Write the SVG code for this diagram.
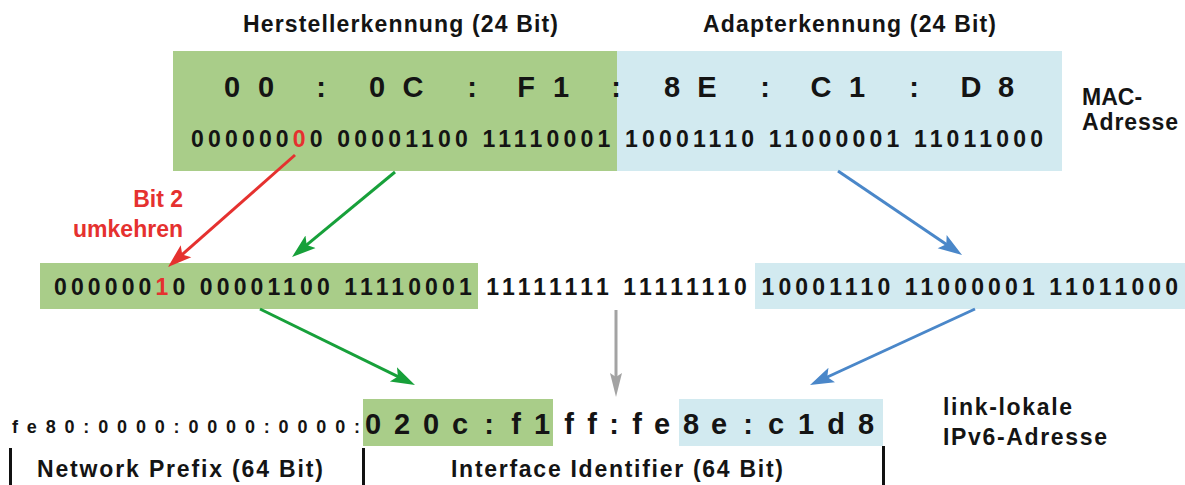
<svg xmlns="http://www.w3.org/2000/svg" width="1185" height="485" viewBox="0 0 1185 485">
<style>
text { font-family: "Liberation Sans", Arial, sans-serif; font-weight: bold; fill: #141414; }
.lbl { font-size: 23px; }
.bin { font-size: 23px; }
.hex { font-size: 29px; }
.big { font-size: 29px; }
.small { font-size: 18px; }
.red { fill: #e5312f; }
.green { fill: #a9cd89; }
.blue { fill: #d2eaf0; }
.bar { fill: #111111; }
.conn { fill: none; stroke-width: 3; }
</style>
<defs>
<marker id="ah-red" markerUnits="userSpaceOnUse" markerWidth="24" markerHeight="18" viewBox="0 0 24 18" refX="12" refY="9" orient="auto"><path d="M0,1 L24,9 L0,17 L5,9 Z" fill="#e5312f"/></marker>
<marker id="ah-green" markerUnits="userSpaceOnUse" markerWidth="24" markerHeight="18" viewBox="0 0 24 18" refX="12" refY="9" orient="auto"><path d="M0,1 L24,9 L0,17 L5,9 Z" fill="#17a03a"/></marker>
<marker id="ah-blue" markerUnits="userSpaceOnUse" markerWidth="24" markerHeight="18" viewBox="0 0 24 18" refX="12" refY="9" orient="auto"><path d="M0,1 L24,9 L0,17 L5,9 Z" fill="#4a87c9"/></marker>
<marker id="ah-gray" markerUnits="userSpaceOnUse" markerWidth="24" markerHeight="18" viewBox="0 0 24 18" refX="12" refY="9" orient="auto"><path d="M0,3 L24,9 L0,15 L4,9 Z" fill="#a3a3a3"/></marker>
</defs>

<g id="headers">
<text class="lbl" x="243" y="32" textLength="315" lengthAdjust="spacing">Herstellerkennung (24 Bit)</text>
<text class="lbl" x="703" y="32" textLength="293" lengthAdjust="spacing">Adapterkennung (24 Bit)</text>
</g>

<g id="mac-address">
<rect class="green" x="173" y="51" width="444" height="120"/>
<rect class="blue" x="617" y="51" width="445" height="120"/>
<text class="hex" y="97" text-anchor="middle" x="232 266 321 377 413 472 526 561 616 672 707 765 821 857 914 971 1006">00:0C:F1:8E:C1:D8</text>
<text class="bin" x="191" y="147" textLength="852" lengthAdjust="spacing">000000<tspan class="red">0</tspan>0 00001100 11110001 10001110 11000001 11011000</text>
</g>

<g id="mac-label">
<text class="lbl" x="1082" y="105">MAC-</text>
<text class="lbl" x="1082" y="130" textLength="96" lengthAdjust="spacing">Adresse</text>
</g>

<g id="bit-label">
<text class="lbl red" x="183" y="207" text-anchor="end">Bit 2</text>
<text class="lbl red" x="183" y="237" text-anchor="end">umkehren</text>
</g>

<g id="eui64">
<rect class="green" x="40" y="263" width="438" height="46"/>
<rect class="blue" x="755" y="263" width="430" height="46"/>
<text class="bin" x="54" y="295" textLength="1124" lengthAdjust="spacing">000000<tspan class="red">1</tspan>0 00001100 11110001 11111111 11111110 10001110 11000001 11011000</text>
</g>

<g id="ipv6">
<rect class="green" x="363" y="399" width="190" height="47"/>
<rect class="blue" x="679" y="399" width="204" height="47"/>
<text class="small" x="12" y="433" textLength="348" lengthAdjust="spacing">fe80:0000:0000:0000:</text>
<text class="big" y="434" text-anchor="middle" x="373 402 431 460 489 516 542 569 592 614 637 662 691 719 748 776 806 836 866">020c:f1ff:fe8e:c1d8</text>
</g>

<g id="ipv6-label">
<text class="lbl" x="943" y="415" textLength="129" lengthAdjust="spacing">link-lokale</text>
<text class="lbl" x="943" y="445" textLength="164" lengthAdjust="spacing">IPv6-Adresse</text>
</g>

<g id="ranges">
<rect class="bar" x="9" y="448" width="3" height="37"/>
<rect class="bar" x="362" y="448" width="3" height="37"/>
<rect class="bar" x="882" y="446" width="3" height="39"/>
<text class="lbl" x="37" y="477" textLength="286" lengthAdjust="spacing">Network Prefix (64 Bit)</text>
<text class="lbl" x="451" y="477" textLength="332" lengthAdjust="spacing">Interface Identifier (64 Bit)</text>
</g>

<g id="connectors">
<line class="conn" x1="295" y1="155" x2="177" y2="259.1" stroke="#e5312f" marker-end="url(#ah-red)"/>
<line class="conn" x1="395" y1="172" x2="301.3" y2="249.4" stroke="#17a03a" marker-end="url(#ah-green)"/>
<line class="conn" x1="838" y1="171" x2="952.1" y2="248.3" stroke="#4a87c9" marker-end="url(#ah-blue)"/>
<line class="conn" x1="616" y1="310" x2="616" y2="385" stroke="#a3a3a3" marker-end="url(#ah-gray)"/>
<line class="conn" x1="260" y1="309" x2="404.2" y2="379.7" stroke="#17a03a" marker-end="url(#ah-green)"/>
<line class="conn" x1="975" y1="309" x2="820.9" y2="380" stroke="#4a87c9" marker-end="url(#ah-blue)"/>
</g>
</svg>
